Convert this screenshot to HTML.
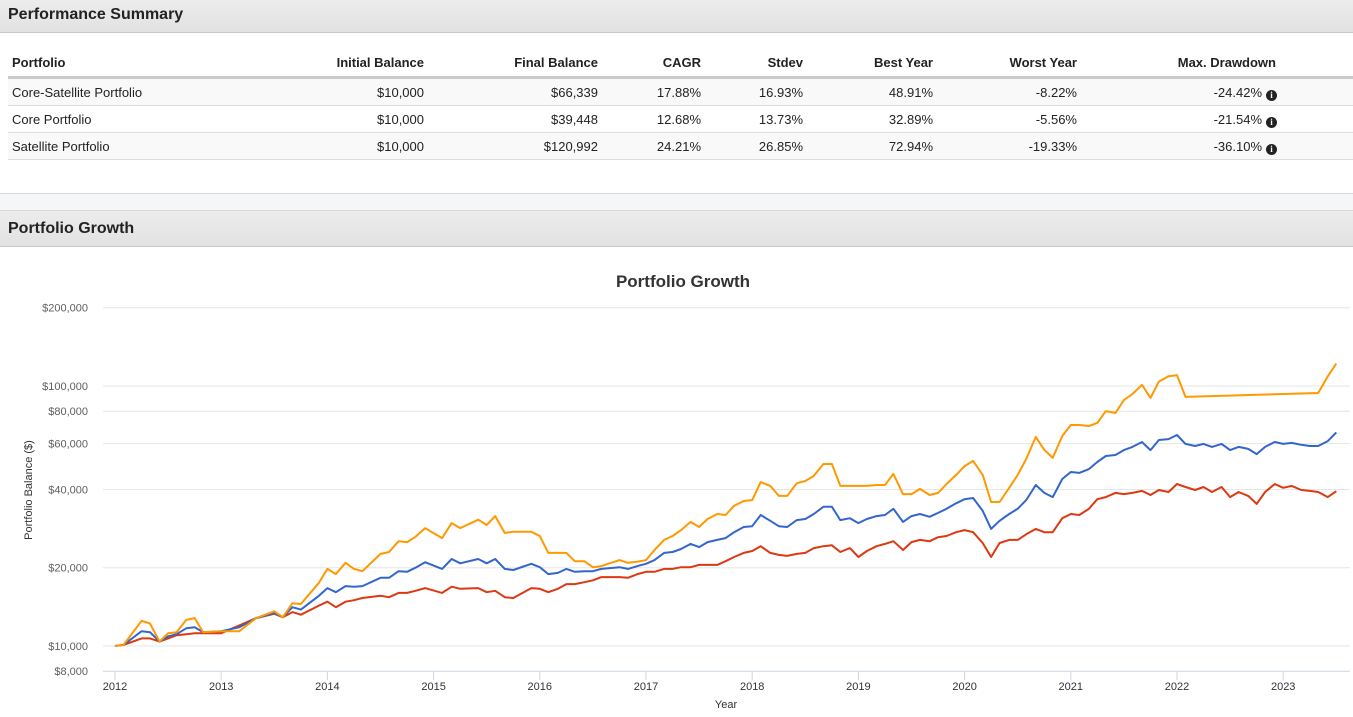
<!DOCTYPE html>
<html><head><meta charset="utf-8">
<style>
body{margin:0;width:1353px;height:717px;overflow:hidden;background:#fff;font-family:"Liberation Sans",Arial,sans-serif;color:#222;position:relative}
.hdr{position:absolute;left:0;width:1353px;background:linear-gradient(#ececec,#e2e2e2);border-bottom:1px solid #c8c8c8;font-weight:bold;font-size:16px;box-sizing:border-box;padding-left:8px}
.c{position:absolute;font-size:13px;white-space:nowrap}
.r{text-align:right}
.th{font-weight:bold}
.row{position:absolute;left:8px;width:1345px;border-bottom:1px solid #ddd;box-sizing:border-box}
.info{display:inline-block;width:11px;height:11px;border-radius:50%;background:#222;color:#fff;font-size:9px;font-weight:bold;text-align:center;line-height:11px;margin-left:4px;vertical-align:-1px;font-family:"Liberation Serif",serif}
</style></head><body>
<div class="hdr" style="top:0;height:33px;line-height:30px">Performance Summary</div>
<div class="row" style="top:46px;height:33px;border-bottom:3px solid #ccc"></div>
<div class="row" style="top:79px;height:27px;background:#f9f9f9"></div>
<div class="row" style="top:106px;height:27px"></div>
<div class="row" style="top:133px;height:27px;background:#f9f9f9"></div>
<div id="tbl"></div>
<div style="position:absolute;top:193px;left:0;width:1353px;height:17px;background:#f5f6f8;border-top:1px solid #d8d8d8"></div>
<div class="hdr" style="top:210px;height:37px;line-height:36px;border-top:1px solid #d8d8d8">Portfolio Growth</div>
<svg id="chart" width="1353" height="470" style="position:absolute;left:0;top:247px" viewBox="0 247 1353 470"></svg>
<script>
// table
const heads=["Portfolio","Initial Balance","Final Balance","CAGR","Stdev","Best Year","Worst Year","Max. Drawdown"];
const rights=[null,424,598,701,803,933,1077,1276];
const rows=[
["Core-Satellite Portfolio","$10,000","$66,339","17.88%","16.93%","48.91%","-8.22%","-24.42%"],
["Core Portfolio","$10,000","$39,448","12.68%","13.73%","32.89%","-5.56%","-21.54%"],
["Satellite Portfolio","$10,000","$120,992","24.21%","26.85%","72.94%","-19.33%","-36.10%"]];
const tbl=document.getElementById('tbl');
function cell(txt,col,y,bold,isDD){
  const d=document.createElement('div');
  d.className='c'+(bold?' th':'');
  
  
  if(col===0){d.style.left='12px';}
  else{d.style.right=(1353-rights[col]-(isDD?0:0))+'px';}
  d.style.top=y+'px';
  if(isDD){d.innerHTML=txt+'<span class="info">i</span>';d.style.right=(1353-1277)+'px';}
  else d.textContent=txt;
  tbl.appendChild(d);
}
heads.forEach((h,i)=>cell(h,i,55,true,false));
rows.forEach((r,ri)=>r.forEach((v,i)=>cell(v,i,85+ri*27,false,i===7)));

// chart data (values in $ thousands)
const dates=[2012.00,2012.08,2012.25,2012.33,2012.42,2012.50,2012.58,2012.67,2012.75,2012.83,2013.00,2013.17,2013.33,2013.50,2013.58,2013.67,2013.75,2013.92,2014.00,2014.08,2014.17,2014.25,2014.33,2014.50,2014.58,2014.67,2014.75,2014.83,2014.92,2015.08,2015.17,2015.25,2015.42,2015.50,2015.58,2015.67,2015.75,2015.92,2016.00,2016.08,2016.17,2016.25,2016.33,2016.42,2016.50,2016.58,2016.75,2016.83,2016.92,2017.00,2017.08,2017.17,2017.25,2017.33,2017.42,2017.50,2017.58,2017.67,2017.75,2017.83,2017.92,2018.00,2018.08,2018.17,2018.25,2018.33,2018.42,2018.50,2018.58,2018.67,2018.75,2018.83,2018.92,2019.00,2019.08,2019.17,2019.25,2019.33,2019.42,2019.50,2019.58,2019.67,2019.75,2019.83,2019.92,2020.00,2020.08,2020.17,2020.25,2020.33,2020.42,2020.50,2020.58,2020.67,2020.75,2020.83,2020.92,2021.00,2021.08,2021.17,2021.25,2021.33,2021.42,2021.50,2021.58,2021.67,2021.75,2021.83,2021.92,2022.00,2022.08,2022.17,2022.25,2022.33,2022.42,2022.50,2022.58,2022.67,2022.75,2022.83,2022.92,2023.00,2023.08,2023.17,2023.25,2023.33,2023.42,2023.50];
const satellite=[10.0,10.1,12.5,12.2,10.4,11.2,11.3,12.6,12.8,11.3,11.4,11.4,12.8,13.6,12.9,14.6,14.5,17.5,19.8,18.9,20.9,19.8,19.4,22.6,23.0,25.3,25.1,26.3,28.4,26.0,29.7,28.4,30.6,29.2,31.6,27.2,27.5,27.5,26.5,22.8,22.8,22.8,21.2,21.2,20.1,20.3,21.4,20.9,21.1,21.4,23.4,25.6,26.5,27.9,30.0,28.7,30.8,32.2,31.9,34.6,36.1,36.4,42.7,41.3,37.8,37.8,42.3,43.1,45.1,50.1,50.1,41.3,41.3,41.3,41.3,41.6,41.6,45.9,38.4,38.4,40.2,38.1,38.8,42.0,45.5,49.2,51.5,45.5,35.8,35.8,40.6,45.5,52.4,63.7,56.8,52.9,64.2,70.8,70.8,70.2,72.1,80.1,78.7,88.3,93.2,101,90.0,104,109,110,90.8,null,null,null,null,null,null,null,null,null,null,null,null,null,null,94.0,109,122];
const coreSatellite=[10.0,10.1,11.4,11.3,10.4,10.9,11.1,11.7,11.8,11.3,11.4,11.8,12.8,13.4,12.9,14.1,13.8,15.6,16.7,16.1,17.0,16.9,17.0,18.3,18.3,19.4,19.3,20.0,21.0,19.8,21.6,20.8,21.6,20.8,21.6,19.8,19.6,20.7,20.1,18.9,19.1,19.8,19.3,19.4,19.4,19.8,20.1,19.8,20.3,20.7,21.4,22.8,23.0,23.6,24.7,24.0,25.1,25.6,26.0,27.4,28.7,28.9,31.9,30.3,28.9,28.7,30.5,30.8,32.2,34.3,34.3,30.5,31.0,29.7,30.8,31.6,31.9,33.7,30.0,31.6,32.2,31.4,32.5,33.7,35.4,36.7,37.1,33.1,28.2,30.3,32.2,33.7,36.4,41.6,38.8,37.4,43.9,46.7,46.3,47.9,51.0,53.8,54.3,56.7,58.3,60.9,56.7,62.0,62.5,64.8,59.9,58.8,59.9,58.3,59.9,56.7,58.3,57.3,54.7,58.3,60.9,59.9,60.4,59.4,58.8,58.8,61.4,66.3];
const core=[10.0,10.1,10.7,10.7,10.4,10.7,11.0,11.1,11.2,11.2,11.2,12.0,12.8,13.3,12.9,13.5,13.2,14.3,14.8,14.1,14.8,15.0,15.3,15.6,15.4,16.0,16.0,16.3,16.7,16.0,16.9,16.6,16.7,16.1,16.3,15.4,15.3,16.7,16.6,16.1,16.6,17.3,17.3,17.6,17.9,18.4,18.4,18.3,18.9,19.3,19.3,19.8,19.8,20.1,20.1,20.5,20.5,20.5,21.2,22.0,22.8,23.2,24.2,22.8,22.4,22.2,22.6,22.8,23.8,24.2,24.4,23.0,23.8,22.0,23.2,24.2,24.7,25.3,23.4,25.1,25.6,25.3,26.2,26.5,27.4,27.9,27.4,24.9,22.0,24.9,25.6,25.6,26.9,28.2,27.4,27.4,31.0,32.2,31.9,33.7,36.7,37.4,38.8,38.4,38.8,39.5,38.1,39.8,39.1,42.0,40.9,39.8,40.9,39.1,40.9,37.4,39.1,37.8,35.2,39.1,42.0,40.6,41.3,39.8,39.5,39.1,37.4,39.4];
const yTicks=[8,10,20,40,60,80,100,200];
const yTickLabels=["$8,000","$10,000","$20,000","$40,000","$60,000","$80,000","$100,000","$200,000"];
const xTicks=[2012,2013,2014,2015,2016,2017,2018,2019,2020,2021,2022,2023];

const X0=115, PXY=106.2, Y10=646, PXD=260, L=103, R=1350;
function xs(t){return X0+(t-2012)*PXY;}
function ys(v){return Y10-Math.log10(v/10)*PXD;}
const NS='http://www.w3.org/2000/svg';
const svg=document.getElementById('chart');
function mk(tag,attrs,txt){const e=document.createElementNS(NS,tag);for(const k in attrs)e.setAttribute(k,attrs[k]);if(txt!==undefined)e.textContent=txt;svg.appendChild(e);return e;}

let t=mk('text',{x:683,y:287,'text-anchor':'middle','font-size':17,'font-weight':'bold',fill:'#333','font-family':'Liberation Sans, Arial, sans-serif'},'Portfolio Growth');



yTicks.forEach((v,i)=>{
  const y=ys(v);
  if(i>0){const g=mk('line',{x1:L,x2:R,y1:y,y2:y,stroke:'#e6e6e6','stroke-width':1});
  
  }
  const lb=mk('text',{x:88,y:y+4,'text-anchor':'end','font-size':11,fill:'#606060','font-family':'Liberation Sans, Arial, sans-serif'},yTickLabels[i]);
  
  
});
const ax=mk('line',{x1:L,x2:R,y1:ys(8),y2:ys(8),stroke:'#ccd6eb','stroke-width':1});


xTicks.forEach(yr=>{
  const x=xs(yr);
  const tk=mk('line',{x1:x,x2:x,y1:ys(8),y2:ys(8)+9,stroke:'#ccd6eb','stroke-width':1});
  
  
  const lb=mk('text',{x:x,y:690,'text-anchor':'middle','font-size':11,fill:'#333','font-family':'Liberation Sans, Arial, sans-serif'},String(yr));
  
  
});
let xt=mk('text',{x:726,y:708,'text-anchor':'middle','font-size':11,fill:'#333','font-family':'Liberation Sans, Arial, sans-serif'},'Year');


let yt=mk('text',{x:0,y:0,'text-anchor':'middle','font-size':11,fill:'#333','font-family':'Liberation Sans, Arial, sans-serif',transform:'translate(32,490) rotate(-90)'},'Portfolio Balance ($)');



function series(vals,color,name){
  let d='';
  vals.forEach((v,i)=>{if(v===null)return;d+=(d?'L':'M')+xs(dates[i]).toFixed(1)+','+ys(v).toFixed(1);});
  const p=mk('path',{d:d,fill:'none',stroke:color,'stroke-width':2,'stroke-linejoin':'round'});
  
  
}
series(core,'#dc3912','line-core-portfolio');
series(coreSatellite,'#3366cc','line-core-satellite-portfolio');
series(satellite,'#ff9900','line-satellite-portfolio');
</script>
</body></html>
